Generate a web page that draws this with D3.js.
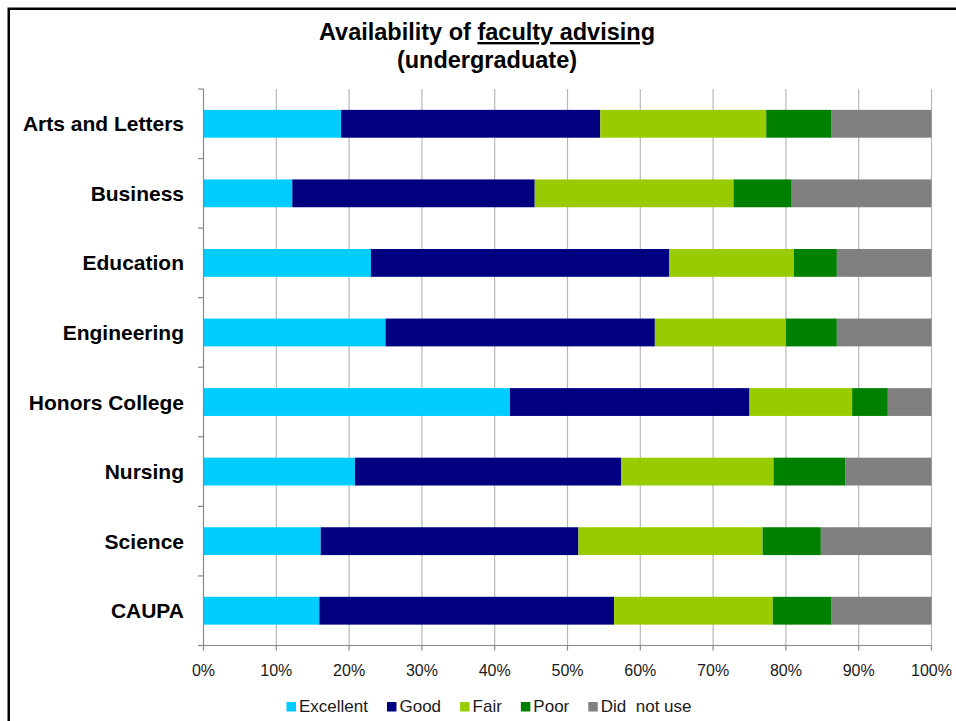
<!DOCTYPE html>
<html>
<head>
<meta charset="utf-8">
<script src="https://cdn.jsdelivr.net/npm/d3@7"></script>
<style>
  body { margin: 0; background: #fff; }
  text { font-family: "Liberation Sans", Arial, sans-serif; }
</style>
</head>
<body>
<div id="chart"></div>
<script>
// Categories (top to bottom) and percentage of each response
const categories = ["Arts and Letters", "Business", "Education", "Engineering",
                    "Honors College", "Nursing", "Science", "CAUPA"];
const excellent = [18.9, 12.2, 23.0, 25.0, 42.1, 20.8, 16.1, 15.9];
const good      = [35.6, 33.3, 41.0, 37.0, 32.9, 36.6, 35.4, 40.5];
const fair      = [22.8, 27.3, 17.1, 18.0, 14.1, 20.9, 25.3, 21.8];
const poor      = [ 8.9,  8.0,  5.9,  7.0,  4.9,  9.9,  8.0,  8.0];
const didNotUse = [13.8, 19.2, 13.0, 13.0,  6.0, 11.8, 15.2, 13.8];

const seriesNames = ["Excellent", "Good", "Fair", "Poor", "Did  not use"];
const seriesColors = ["#00ccff", "#000080", "#99cc00", "#008000", "#808080"];
const xTicks = [0, 10, 20, 30, 40, 50, 60, 70, 80, 90, 100];

// Set dimensions
const width = 956, height = 721;
const margin = {top: 89, right: 24.5, bottom: 75.5, left: 203.5};
const innerW = width - margin.left - margin.right;
const innerH = height - margin.top - margin.bottom;

const svg = d3.select("#chart").append("svg")
  .attr("width", width)
  .attr("height", height);

// Outer frame
svg.append("rect")
  .attr("x", 8.75).attr("y", 8.75)
  .attr("width", 980).attr("height", 740)
  .attr("fill", "none")
  .attr("stroke", "#000")
  .attr("stroke-width", 2.5);

// Title
const title = svg.append("text")
  .attr("x", 487)
  .attr("y", 40)
  .attr("text-anchor", "middle")
  .style("font-size", "23.5px")
  .style("font-weight", "bold");
title.append("tspan").text("Availability of ");
title.append("tspan").style("text-decoration", "underline").text("faculty advising");
svg.append("text")
  .attr("x", 487)
  .attr("y", 68)
  .attr("text-anchor", "middle")
  .style("font-size", "23.5px")
  .style("font-weight", "bold")
  .text("(undergraduate)");

const g = svg.append("g")
  .attr("transform", `translate(${margin.left},${margin.top})`);

// Scales
const x = d3.scaleLinear().domain([0, 100]).range([0, innerW]);
const y = d3.scaleBand().domain(categories).range([0, innerH])
  .paddingInner(0.6).paddingOuter(0.3);

// Vertical gridlines
g.selectAll(".grid")
  .data(xTicks.slice(1))
  .join("line")
  .attr("x1", d => x(d)).attr("x2", d => x(d))
  .attr("y1", 0).attr("y2", innerH)
  .attr("stroke", "#b8b8b8")
  .attr("stroke-width", 1.2);

// Stacked data
const rows = categories.map((c, i) => ({
  cat: c,
  vals: [excellent[i], good[i], fair[i], poor[i], didNotUse[i]]
}));
const segs = [];
rows.forEach(r => {
  let acc = 0;
  r.vals.forEach((v, k) => {
    segs.push({cat: r.cat, k: k, x0: acc, x1: acc + v});
    acc += v;
  });
});

g.selectAll(".seg")
  .data(segs)
  .join("rect")
  .attr("x", d => x(d.x0))
  .attr("y", d => y(d.cat))
  .attr("width", d => x(d.x1) - x(d.x0))
  .attr("height", y.bandwidth())
  .attr("fill", d => seriesColors[d.k]);

// Left axis line with ticks between categories
const bounds = d3.range(categories.length + 1).map(i => i * y.step());
g.append("line")
  .attr("x1", 0).attr("x2", 0).attr("y1", 0).attr("y2", innerH)
  .attr("stroke", "#888").attr("stroke-width", 1.2);
g.selectAll(".ytick")
  .data(bounds)
  .join("line")
  .attr("x1", -5.5).attr("x2", 0)
  .attr("y1", d => d).attr("y2", d => d)
  .attr("stroke", "#888").attr("stroke-width", 1.2);

// Category labels
g.selectAll(".ylab")
  .data(categories)
  .join("text")
  .attr("x", -19.5)
  .attr("y", d => y(d) + y.bandwidth() / 2)
  .attr("dy", "0.36em")
  .attr("text-anchor", "end")
  .style("font-size", "21px")
  .style("font-weight", "bold")
  .text(d => d);

// Bottom axis
g.append("line")
  .attr("x1", 0).attr("x2", innerW).attr("y1", innerH).attr("y2", innerH)
  .attr("stroke", "#888").attr("stroke-width", 1.2);
g.selectAll(".xtick")
  .data(xTicks)
  .join("line")
  .attr("x1", d => x(d)).attr("x2", d => x(d))
  .attr("y1", innerH).attr("y2", innerH + 5)
  .attr("stroke", "#888").attr("stroke-width", 1.2);
g.selectAll(".xlab")
  .data(xTicks)
  .join("text")
  .attr("x", d => x(d))
  .attr("y", innerH + 30)
  .attr("text-anchor", "middle")
  .attr("fill", "#1a1a1a")
  .style("font-size", "16px")
  .text(d => d + "%");

// Legend
const legend = svg.append("g");
const items = legend.selectAll(".item")
  .data(seriesNames)
  .join("g");
items.append("rect")
  .attr("width", 9.5).attr("height", 9.5)
  .attr("y", -10)
  .attr("fill", (d, i) => seriesColors[i]);
items.append("text")
  .attr("x", 12.5)
  .attr("y", 0)
  .attr("fill", "#1a1a1a")
  .style("font-size", "17px")
  .style("white-space", "pre")
  .attr("xml:space", "preserve")
  .text(d => d);

let pos = 0;
items.each(function() {
  const w = this.querySelector("text").getComputedTextLength();
  d3.select(this).attr("transform", `translate(${pos},0)`);
  pos += 12.5 + w + 19;
});
const legendW = pos - 19;
legend.attr("transform", `translate(${489 - legendW / 2},712)`);
</script>
</body>
</html>
